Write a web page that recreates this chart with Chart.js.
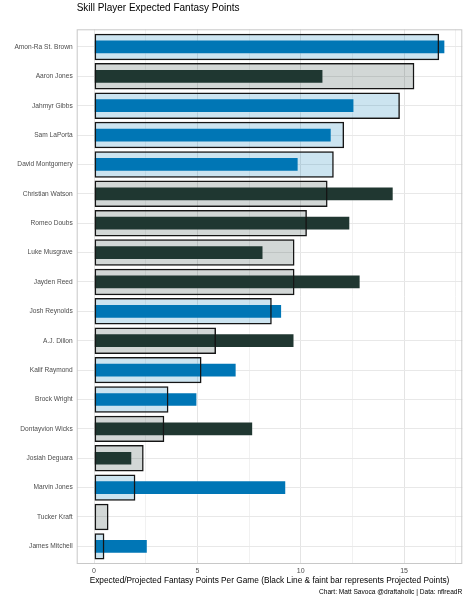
<!DOCTYPE html>
<html>
<head>
<meta charset="utf-8">
<script src="https://cdn.jsdelivr.net/npm/chart.js@4.4.1/dist/chart.umd.min.js"></script>
<style>
  html, body { margin: 0; padding: 0; background: #fff; }
</style>
</head>
<body>
<canvas id="chart" width="467" height="600"></canvas>
<script>
// players top to bottom
const players = [
  'Amon-Ra St. Brown', 'Aaron Jones', 'Jahmyr Gibbs', 'Sam LaPorta', 'David Montgomery',
  'Christian Watson', 'Romeo Doubs', 'Luke Musgrave', 'Jayden Reed', 'Josh Reynolds',
  'A.J. Dillon', 'Kalif Raymond', 'Brock Wright', 'Dontayvion Wicks', 'Josiah Deguara',
  'Marvin Jones', 'Tucker Kraft', 'James Mitchell'
];
const teams = [
  'DET', 'GB', 'DET', 'DET', 'DET',
  'GB', 'GB', 'GB', 'GB', 'DET',
  'GB', 'DET', 'DET', 'GB', 'GB',
  'DET', 'GB', 'DET'
];
// projected points (faint bar with black outline)
const projected = [16.7, 15.5, 14.8, 12.1, 11.6, 11.3, 10.3, 9.7, 9.7, 8.6, 5.9, 5.2, 3.6, 3.4, 2.4, 2.0, 0.7, 0.5];
// expected points (solid bar)
const expected = [17.0, 11.1, 12.6, 11.5, 9.9, 14.5, 12.4, 8.2, 12.9, 9.1, 9.7, 6.9, 5.0, 7.7, 1.85, 9.3, 0, 2.6];
const xTicks = [0, 2.5, 5, 7.5, 10, 12.5, 15, 17.5];

const chartTitle = 'Skill Player Expected Fantasy Points';
const xTitle = 'Expected/Projected Fantasy Points Per Game (Black Line & faint bar represents Projected Points)';
const caption = 'Chart: Matt Savoca @draftaholic | Data: nflreadR';

const solid = { DET: '#0076B6', GB: '#203731' };
const faint = { DET: 'rgba(0,118,182,0.2)', GB: 'rgba(32,55,49,0.2)' };
const FONT = '"Liberation Sans", Arial, sans-serif';

// title, caption and panel border
const extras = {
  id: 'extras',
  afterDraw(chart) {
    const { ctx, chartArea } = chart;
    ctx.save();
    ctx.strokeStyle = '#c8c8c8';
    ctx.lineWidth = 1;
    ctx.strokeRect(chartArea.left + 0.5, chartArea.top + 0.5,
      chartArea.right - chartArea.left - 1, chartArea.bottom - chartArea.top - 1);
    ctx.fillStyle = '#000';
    ctx.textBaseline = 'middle';
    ctx.font = '10px ' + FONT;
    ctx.textAlign = 'left';
    ctx.fillText(chartTitle, chartArea.left, 8);
    ctx.font = '6.6px ' + FONT;
    ctx.textAlign = 'right';
    ctx.fillText(caption, chartArea.right, 592.5);
    ctx.restore();
  }
};

new Chart(document.getElementById('chart'), {
  type: 'bar',
  plugins: [extras],
  data: {
    datasets: [
      {
        label: 'Projected',
        data: projected.map((v, i) => ({ x: v, y: i })),
        backgroundColor: (c) => faint[teams[c.dataIndex]],
        borderColor: '#151515',
        borderWidth: 1.5,
        borderSkipped: false,
        grouped: false,
        categoryPercentage: 1,
        barPercentage: 0.9,
      },
      {
        label: 'Expected',
        data: expected.map((v, i) => ({ x: v, y: i })),
        backgroundColor: (c) => solid[teams[c.dataIndex]],
        borderColor: 'rgba(255,255,255,0.3)',
        borderWidth: 1,
        borderSkipped: 'start',
        grouped: false,
        categoryPercentage: 1,
        barPercentage: 0.5,
      },
    ],
  },
  options: {
    responsive: false,
    animation: false,
    indexAxis: 'y',
    layout: { padding: { top: 29.3, right: 4.7, bottom: 12, left: 0 } },
    plugins: {
      legend: { display: false },
      tooltip: { enabled: false },
      title: { display: false },
    },
    scales: {
      x: {
        type: 'linear',
        min: -0.84,
        max: 17.82,
        offset: false,
        afterBuildTicks: (s) => { s.ticks = xTicks.map((v) => ({ value: v })); },
        afterFit: (s) => { s.height = 24; },
        border: { display: false },
        grid: {
          offset: false,
          drawTicks: false,
          color: (c) => (c.tick && c.tick.value % 5 === 0 ? '#e4e4e4' : '#f1f1f1'),
        },
        ticks: {
          padding: 3,
          color: '#4d4d4d',
          font: { family: FONT, size: 7 },
          callback: (v) => (v % 5 === 0 ? v : ''),
        },
        title: {
          display: true,
          text: xTitle,
          color: '#000',
          font: { family: FONT, size: 8.3 },
          padding: { top: 0, bottom: 2 },
        },
      },
      y: {
        type: 'linear',
        min: -0.6,
        max: players.length - 0.4,
        reverse: true,
        offset: false,
        afterBuildTicks: (s) => { s.ticks = players.map((p, i) => ({ value: i })); },
        afterFit: (s) => { s.width = 76.7; },
        border: { display: false },
        grid: { offset: false, drawTicks: false, color: '#e8e8e8' },
        ticks: {
          padding: 4,
          color: '#4d4d4d',
          font: { family: FONT, size: 6.6 },
          callback: (v) => players[v],
        },
      },
    },
  },
});
</script>
</body>
</html>
